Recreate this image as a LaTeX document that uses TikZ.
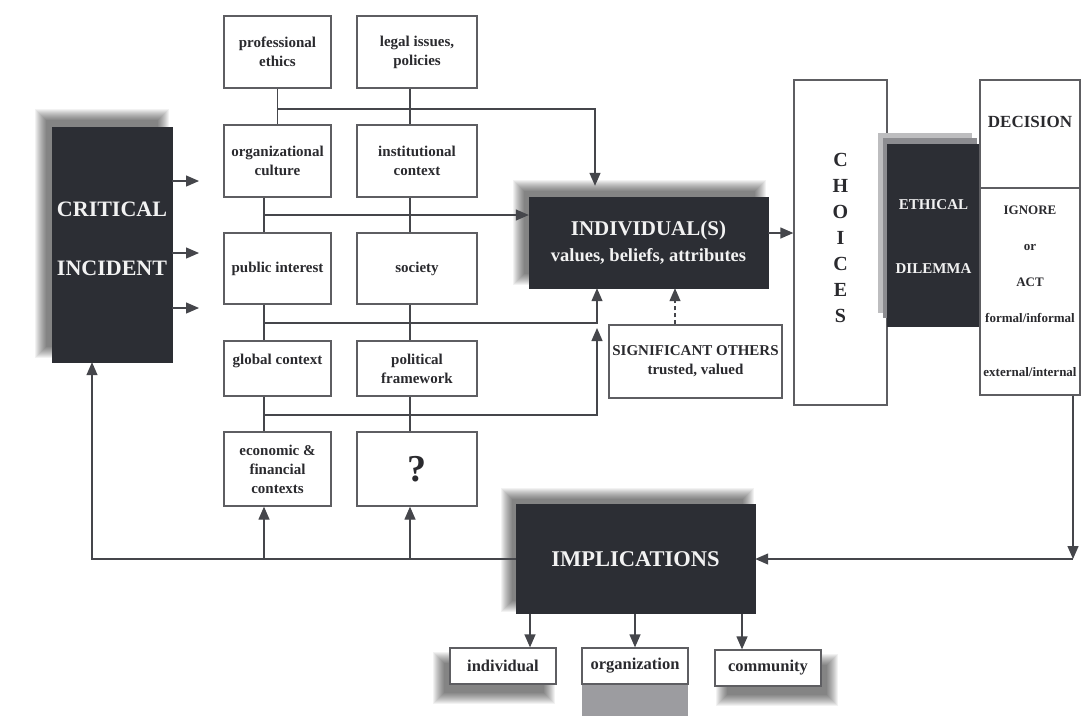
\documentclass[tikz,border=0pt]{standalone}
\usepackage{fontspec}
\setmainfont{Liberation Serif}
\usetikzlibrary{arrows.meta}

\definecolor{ink}{HTML}{2C2E34}
\definecolor{edge}{HTML}{5E5E62}
\definecolor{wirec}{HTML}{45464B}
\definecolor{paper}{HTML}{F2F2F2}
\definecolor{txt}{HTML}{2A2A2E}
\definecolor{shadelight}{HTML}{BDBDBF}
\definecolor{shademid}{HTML}{8C8C90}
\definecolor{orgshade}{HTML}{9C9CA0}

\pgfdeclarelayer{paperlayer}
\pgfdeclarelayer{shadowlayer}
\pgfsetlayers{paperlayer,shadowlayer,main}

\tikzset{
  wbox/.style={draw=edge, line width=1.3pt, fill=white, align=center, inner sep=2pt,
    text=txt, font=\bfseries\fontsize{15}{19}\selectfont},
  dbox/.style={draw=ink, fill=ink, align=center, inner sep=2pt, text=paper},
  wire/.style={draw=wirec, line width=1.3pt},
  arr/.style={wire, -{Triangle[length=13pt,width=11pt]}},
}

% soft drop shadow behind a named node: node, x offset, y offset (page directions)
\newcommand{\softshade}[3]{%
  \begin{pgfonlayer}{shadowlayer}
    \foreach \r in {-4,...,7}{
      \fill[black, opacity=0.05]
        ([xshift={#2-\r pt}, yshift={#3-\r pt}]#1.south west)
        rectangle ([xshift={#2+\r pt}, yshift={#3+\r pt}]#1.north east);
    }
  \end{pgfonlayer}}

\begin{document}
\begin{tikzpicture}[x=1pt,y=-1pt]
\useasboundingbox (0,0) rectangle (1081,716);
\begin{pgfonlayer}{paperlayer}
  \fill[white] (0,0) rectangle (1081,716);
\end{pgfonlayer}

% critical incident
\node[dbox, minimum width=120pt, minimum height=235pt,
  font=\bfseries\fontsize{22}{26}\selectfont] (ci) at (112,244.5) {CRITICAL\\[33pt]INCIDENT\\[-14pt]\mbox{}};
\softshade{ci}{-10pt}{11pt}

% grid of context boxes
\node[wbox, minimum width=107pt, minimum height=72pt] (pe) at (277.5,52) {professional\\ethics};
\node[wbox, minimum width=120pt, minimum height=72pt] (li) at (417,52) {legal issues,\\policies};
\node[wbox, minimum width=107pt, minimum height=72pt] (oc) at (277.5,161) {organizational\\culture};
\node[wbox, minimum width=120pt, minimum height=72pt] (ic) at (417,161) {institutional\\context};
\node[wbox, minimum width=107pt, minimum height=71pt] (pi) at (277.5,268.5) {public interest};
\node[wbox, minimum width=120pt, minimum height=71pt] (so) at (417,268.5) {society};
\node[wbox, minimum width=107pt, minimum height=55pt] (gc) at (277.5,368.5) {global context\\\mbox{}};
\node[wbox, minimum width=120pt, minimum height=55pt] (pf) at (417,368.5) {political\\framework};
\node[wbox, minimum width=107pt, minimum height=74pt] (ec) at (277.5,469) {economic \&\\financial\\contexts};
\node[wbox, minimum width=120pt, minimum height=74pt, font=\bfseries\fontsize{38}{40}\selectfont] (qm) at (417,469) {?};

% individual and significant others
\node[dbox, minimum width=239pt, minimum height=91pt, font=\bfseries\fontsize{21}{24}\selectfont] (ind) at (648.5,242.5)
  {INDIVIDUAL(S)\\[2pt]\fontsize{18.5}{22}\selectfont values, beliefs, attributes};
\softshade{ind}{-9pt}{10pt}
\node[wbox, minimum width=173pt, minimum height=73pt] (sig) at (695.5,361.5) {SIGNIFICANT OTHERS\\trusted, valued};

% choices, dilemma, decision
\node[wbox, minimum width=93pt, minimum height=325pt, font=\bfseries\fontsize{20}{26}\selectfont]
  (cho) at (840.5,242.5) {C\\H\\O\\I\\C\\E\\S\\[-16pt]\mbox{}};
\fill[shadelight] (878,133) rectangle (972,313);
\fill[shademid] (883,138) rectangle (977,318);
\node[dbox, minimum width=93pt, minimum height=182pt, font=\bfseries\fontsize{15}{18}\selectfont]
  (eth) at (933.5,235) {\mbox{}\\[-4pt]ETHICAL\\[46pt]DILEMMA};
\node[wbox, minimum width=100pt, minimum height=108pt, font=\bfseries\fontsize{17}{21}\selectfont]
  (dec) at (1030,134) {DECISION\\[4pt]\mbox{}};
\node[wbox, minimum width=100pt, minimum height=207pt, font=\bfseries\fontsize{13}{36}\selectfont]
  (opt) at (1030,291.5) {IGNORE\\or\\ACT\\formal/informal\\[18pt]external/internal};

% implications and its outcomes
\node[dbox, minimum width=239pt, minimum height=109pt, font=\bfseries\fontsize{22.5}{27}\selectfont]
  (imp) at (635.5,559) {IMPLICATIONS};
\softshade{imp}{-8pt}{9pt}
\fill[orgshade] (582,684) rectangle (688,716);
\node[wbox, minimum width=106pt, minimum height=36pt, font=\bfseries\fontsize{16.5}{19}\selectfont] (iv) at (503,666) {individual};
\node[wbox, minimum width=106pt, minimum height=36pt, font=\bfseries\fontsize{16.5}{19}\selectfont] (org) at (635,666) {organization};
\node[wbox, minimum width=106pt, minimum height=36pt, font=\bfseries\fontsize{16.5}{19}\selectfont] (com) at (768,668) {community};
\softshade{iv}{-9pt}{-12pt}
\softshade{com}{9pt}{-12pt}

% critical incident feeds the contexts
\coordinate (a1) at (199,181);
\coordinate (a2) at (199,253);
\coordinate (a3) at (199,308);
\draw[arr] (a1 -| ci.east) -- (a1);
\draw[arr] (a2 -| ci.east) -- (a2);
\draw[arr] (a3 -| ci.east) -- (a3);

% vertical links inside the grid
\draw[wire] (pe.south) -- (oc.north);
\draw[wire] ([xshift=-7pt]li.south) -- ([xshift=-7pt]ic.north);
\draw[wire] ([xshift=-13.5pt]oc.south) -- ([xshift=-13.5pt]pi.north);
\draw[wire] ([xshift=-7pt]ic.south) -- ([xshift=-7pt]so.north);
\draw[wire] ([xshift=-13.5pt]pi.south) -- ([xshift=-13.5pt]gc.north);
\draw[wire] ([xshift=-7pt]so.south) -- ([xshift=-7pt]pf.north);
\draw[wire] ([xshift=-13.5pt]gc.south) -- ([xshift=-13.5pt]ec.north);
\draw[wire] ([xshift=-7pt]pf.south) -- ([xshift=-7pt]qm.north);

% buses from the grid into the individual
\coordinate (j1) at (278,109);
\coordinate (j2) at (264,215);
\coordinate (j3) at (264,323);
\coordinate (j4) at (264,415);
\coordinate (k4) at (597,328);
\draw[arr, shorten >=11pt] (j1) -| ([xshift=-53.5pt]ind.north);
\draw[arr] (j2) -- (j2 -| ind.west);
\draw[arr] (j3) -| ([xshift=-51.5pt]ind.south);
\draw[arr] (j4) -| (k4);
\draw[arr, dash pattern=on 4pt off 3pt] ([xshift=-20.5pt]sig.north) -- ([xshift=-20.5pt]sig.north |- ind.south);

% individual to choices
\draw[arr] ([yshift=9.5pt]ind.east) -- ([yshift=9.5pt]ind.east -| cho.west);

% decision back to implications
\coordinate (r1) at (1073,559);
\draw[arr] (r1 |- opt.south) -- (r1);
\draw[arr] (r1) -- (imp.east);

% implications feed back
\draw[arr] (imp.west) -| ([xshift=-20pt]ci.south);
\draw[arr] ([xshift=-13.5pt]ec.south |- imp.west) -- ([xshift=-13.5pt]ec.south);
\draw[arr] ([xshift=-7pt]qm.south |- imp.west) -- ([xshift=-7pt]qm.south);

% implications outcomes
\draw[arr] ([xshift=27pt]iv.north |- imp.south) -- ([xshift=27pt]iv.north);
\draw[arr] (org.north |- imp.south) -- (org.north);
\draw[arr] ([xshift=-26pt]com.north |- imp.south) -- ([xshift=-26pt]com.north);
\end{tikzpicture}
\end{document}
